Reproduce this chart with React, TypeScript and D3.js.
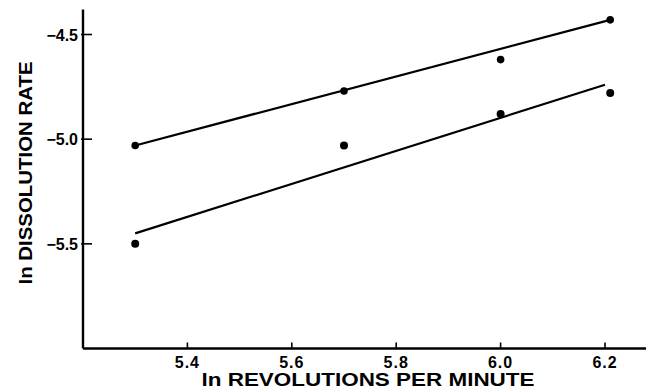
import React from "react";
import * as d3 from "d3";

const W = 646;
const H = 392;

// axis ticks
const xTicks = [5.4, 5.6, 5.8, 6.0, 6.2];
const yTicks = [-4.5, -5.0, -5.5];
const xExtent = [5.2, 6.28];
const yExtent = [-6.0, -4.38];

// measured points (ln rpm vs ln dissolution rate)
const lnRpm = [5.3, 5.7, 6.0, 6.21];
const upperRate = [-5.03, -4.77, -4.62, -4.43];
const lowerRate = [-5.5, -5.03, -4.88, -4.78];

// fitted lines, end points
const upperFitX = [5.3, 6.21];
const upperFitY = [-5.03, -4.43];
const lowerFitX = [5.3, 6.2];
const lowerFitY = [-5.45, -4.74];

const font = "'Liberation Sans', Arial, Helvetica, sans-serif";

const App = () => {
  const x = d3.scaleLinear().domain([5.2, 6.2]).range([83, 605]);
  const y = d3.scaleLinear().domain([-6, -4.5]).range([348.5, 34.5]);

  const fitPath = (xs: number[], ys: number[]) =>
    d3
      .line<number>()
      .x((d) => x(xs[d]))
      .y((d) => y(ys[d]))(xs.map((_, i) => i)) || "";

  const x0 = x(xExtent[0]);
  const yb = y(yExtent[0]);

  return (
    <svg
      width={W}
      height={H}
      style={{ position: "absolute", left: 0, top: 0, background: "#fff" }}
      fontFamily={font}
    >
      {/* axes */}
      <line x1={x0} x2={x(xExtent[1])} y1={yb} y2={yb} stroke="#000" strokeWidth={2.4} />
      <line x1={x0} x2={x0} y1={y(yExtent[1])} y2={yb} stroke="#000" strokeWidth={2.4} />

      {xTicks.map((t) => (
        <g key={t}>
          <line x1={x(t)} x2={x(t)} y1={yb} y2={yb - 6} stroke="#000" strokeWidth={1.6} />
          <text
            x={x(t)}
            y={368}
            textAnchor="middle"
            fontSize={16}
            fontWeight="bold"
            letterSpacing={1}
          >
            {t.toFixed(1)}
          </text>
        </g>
      ))}

      {yTicks.map((t) => (
        <g key={t}>
          <line x1={x0 - 2} x2={x0 + 9} y1={y(t)} y2={y(t)} stroke="#000" strokeWidth={1.6} />
          <text
            x={78}
            y={y(t) + 6}
            textAnchor="end"
            fontSize={16}
            fontWeight="bold"
          >
            {"\u2212" + Math.abs(t).toFixed(1)}
          </text>
        </g>
      ))}

      {/* fitted lines */}
      <path d={fitPath(upperFitX, upperFitY)} fill="none" stroke="#000" strokeWidth={2.2} />
      <path d={fitPath(lowerFitX, lowerFitY)} fill="none" stroke="#000" strokeWidth={2.2} />

      {/* points */}
      {lnRpm.map((v, i) => (
        <circle key={"u" + i} cx={x(v)} cy={y(upperRate[i])} r={3.8} fill="#000" />
      ))}
      {lnRpm.map((v, i) => (
        <circle key={"l" + i} cx={x(v)} cy={y(lowerRate[i])} r={4} fill="#000" />
      ))}

      {/* axis titles */}
      <text
        x={368}
        y={386}
        textAnchor="middle"
        fontSize={18}
        fontWeight="bold"
        textLength={333}
        lengthAdjust="spacingAndGlyphs"
      >
        ln REVOLUTIONS PER MINUTE
      </text>
      <text
        transform="translate(32,173) rotate(-90)"
        textAnchor="middle"
        fontSize={19}
        fontWeight="bold"
        textLength={223}
        lengthAdjust="spacingAndGlyphs"
      >
        ln DISSOLUTION RATE
      </text>
    </svg>
  );
};

export default App;
